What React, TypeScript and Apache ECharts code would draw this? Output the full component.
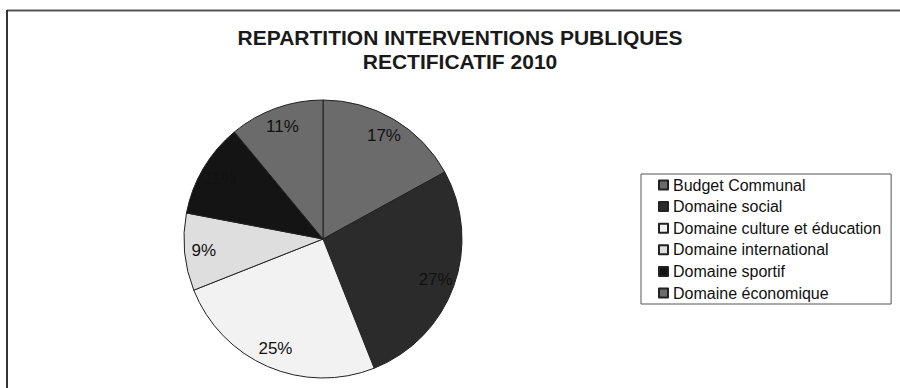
import React, { useEffect, useRef } from "react";
import * as echarts from "echarts";

const categories = [
  "Budget Communal",
  "Domaine social",
  "Domaine culture et éducation",
  "Domaine international",
  "Domaine sportif",
  "Domaine économique",
];
const values = [17, 27, 25, 9, 11, 11];
const colors = ["#6b6b6b", "#2b2b2b", "#f2f2f2", "#dedede", "#141414", "#6b6b6b"];
const titleLines = ["REPARTITION INTERVENTIONS PUBLIQUES", "RECTIFICATIF 2010"];

const FONT = "'Liberation Sans', Arial, sans-serif";

export default function App() {
  const ref = useRef<HTMLDivElement>(null);
  useEffect(() => {
    if (!ref.current) return;
    const chart = echarts.init(ref.current, undefined, { renderer: "svg" });
    const cx = 323;
    const cy = 239;
    const r = 139;
    const data = categories.map((name, i) => ({
      name,
      value: values[i],
      itemStyle: { color: colors[i] },
    }));
    chart.setOption({
      animation: false,
      backgroundColor: "#ffffff",
      title: {
        text: titleLines.join("\n"),
        left: 460,
        textAlign: "center",
        top: 25,
        padding: 0,
        textStyle: {
          fontFamily: FONT,
          fontWeight: "bold",
          fontSize: 21,
          lineHeight: 24,
          color: "#1a1a1a",
        },
      },
      graphic: [
        {
          type: "line",
          shape: { x1: 7, y1: 10.5, x2: 900, y2: 10.5 },
          style: { stroke: "#555", lineWidth: 2 },
        },
        {
          type: "line",
          shape: { x1: 7, y1: 10, x2: 7, y2: 388 },
          style: { stroke: "#333", lineWidth: 2 },
        },
      ],
      legend: {
        orient: "vertical",
        left: 641,
        top: 174,
        padding: [3, 10, 3, 17],
        borderColor: "#555",
        borderWidth: 1,
        itemWidth: 9,
        itemHeight: 9,
        itemGap: 5.6,
        icon: "rect",
        textStyle: {
          fontFamily: FONT,
          fontSize: 16,
          color: "#111",
        },
        data: categories,
      },
      series: [
        {
          type: "pie",
          center: [cx, cy],
          radius: [0, r],
          startAngle: 90,
          clockwise: true,
          label: { show: false },
          labelLine: { show: false },
          itemStyle: { borderColor: "#222", borderWidth: 1 },
          emphasis: { disabled: true },
          data,
        },
        {
          type: "pie",
          center: [cx, cy],
          radius: [r * 0.68, r],
          startAngle: 90,
          clockwise: true,
          silent: true,
          legendHoverLink: false,
          itemStyle: { color: "transparent", borderWidth: 0 },
          label: {
            show: true,
            position: "inside",
            formatter: "{c}%",
            fontFamily: FONT,
            fontSize: 17,
            color: "#111",
          },
          labelLine: { show: false },
          emphasis: { disabled: true },
          data: categories.map((name, i) => ({ name: name + " ", value: values[i] })),
        },
      ],
    });
    return () => chart.dispose();
  }, []);
  return (
    <div
      ref={ref}
      style={{ position: "absolute", left: 0, top: 0, width: 900, height: 388 }}
    />
  );
}
